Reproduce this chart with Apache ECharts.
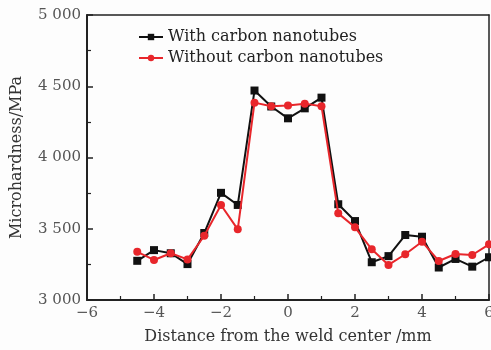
<!DOCTYPE html>
<html>
<head>
<meta charset="utf-8">
<script src="https://cdn.jsdelivr.net/npm/echarts@6/dist/echarts.min.js"></script>
<style>
html, body { margin: 0; padding: 0; background: #fff; }
#chart { width: 491px; height: 350px; }
</style>
</head>
<body>
<div id="chart"></div>
<script>
// distance from weld center (mm)
var distance = [-4.5, -4, -3.5, -3, -2.5, -2, -1.5, -1, -0.5, 0, 0.5, 1, 1.5, 2, 2.5, 3, 3.5, 4, 4.5, 5, 5.5, 6];
// microhardness (MPa)
var withCNT = [3275, 3350, 3328, 3252, 3470, 3752, 3667, 4470, 4358, 4275, 4345, 4420, 3672, 3554, 3265, 3308, 3456, 3444, 3228, 3288, 3234, 3300];
var withoutCNT = [3338, 3281, 3328, 3285, 3451, 3667, 3496, 4385, 4360, 4365, 4378, 4360, 3608, 3510, 3356, 3246, 3321, 3409, 3274, 3323, 3316, 3391];

function pairs(xs, ys) {
	var out = [];
	for (var i = 0; i < xs.length; i++) {
		out.push([xs[i], ys[i]]);
	}
	return out;
}

var myChart = echarts.init(document.getElementById('chart'));
var serif = '"DejaVu Serif", "Liberation Serif", serif';
var frameLine = { show: true, onZero: false, lineStyle: { color: '#222', width: 1.5 } };
var option = {
	backgroundColor: '#fdfdfd',
	animation: false,
	grid: {
		left: 87,
		right: 2,
		top: 15,
		bottom: 50,
		outerBoundsMode: 'none',
		containLabel: false
	},
	legend: {
		left: 133,
		top: 24,
		orient: 'vertical',
		itemGap: 5,
		itemWidth: 24,
		itemHeight: 8,
		textStyle: {
			fontFamily: serif,
			fontSize: 16,
			color: '#222'
		},
		data: ['With carbon nanotubes', 'Without carbon nanotubes']
	},
	xAxis: [{
		type: 'value',
		min: -6,
		max: 6,
		interval: 2,
		name: 'Distance from the weld center /mm',
		nameLocation: 'middle',
		nameGap: 29,
		nameTextStyle: { fontFamily: serif, fontSize: 16, color: '#333' },
		axisLine: { onZero: false, lineStyle: { color: '#222', width: 2 } },
		axisTick: { inside: true, length: 6, lineStyle: { color: '#222', width: 1.5 } },
		minorTick: { show: true, splitNumber: 2, length: 4, lineStyle: { color: '#222', width: 1.2 } },
		axisLabel: {
			fontFamily: serif,
			fontSize: 15,
			color: '#555',
			margin: 6,
			formatter: function(v) { return v < 0 ? '\u2212' + Math.abs(v) : String(v); }
		},
		splitLine: { show: false }
	}, {
		// top frame
		type: 'value',
		position: 'top',
		min: -6,
		max: 6,
		axisLine: frameLine,
		axisTick: { show: false },
		axisLabel: { show: false },
		splitLine: { show: false }
	}],
	yAxis: [{
		type: 'value',
		min: 3000,
		max: 5000,
		interval: 500,
		name: 'Microhardness/MPa',
		nameLocation: 'middle',
		nameGap: 62,
		nameTextStyle: { fontFamily: serif, fontSize: 16, color: '#333' },
		axisLine: { show: true, onZero: false, lineStyle: { color: '#222', width: 2 } },
		axisTick: { show: true, inside: true, length: 6, lineStyle: { color: '#222', width: 1.5 } },
		minorTick: { show: true, splitNumber: 2, length: 4, lineStyle: { color: '#222', width: 1.2 } },
		axisLabel: {
			fontFamily: serif,
			fontSize: 15,
			color: '#555',
			margin: 6,
			formatter: function(v) {
				var s = String(v);
				return s.slice(0, s.length - 3) + ' ' + s.slice(s.length - 3);
			}
		},
		splitLine: { show: false }
	}, {
		// right frame
		type: 'value',
		position: 'right',
		min: 3000,
		max: 5000,
		axisLine: frameLine,
		axisTick: { show: false },
		axisLabel: { show: false },
		splitLine: { show: false }
	}],
	series: [{
		name: 'With carbon nanotubes',
		type: 'line',
		data: pairs(distance, withCNT),
		symbol: 'rect',
		symbolSize: 8,
		lineStyle: { color: '#111', width: 2 },
		itemStyle: { color: '#111' },
		z: 2
	}, {
		name: 'Without carbon nanotubes',
		type: 'line',
		data: pairs(distance, withoutCNT),
		symbol: 'circle',
		symbolSize: 8,
		lineStyle: { color: '#e8262b', width: 2 },
		itemStyle: { color: '#e8262b' },
		z: 3
	}]
};
myChart.setOption(option);
</script>
</body>
</html>
